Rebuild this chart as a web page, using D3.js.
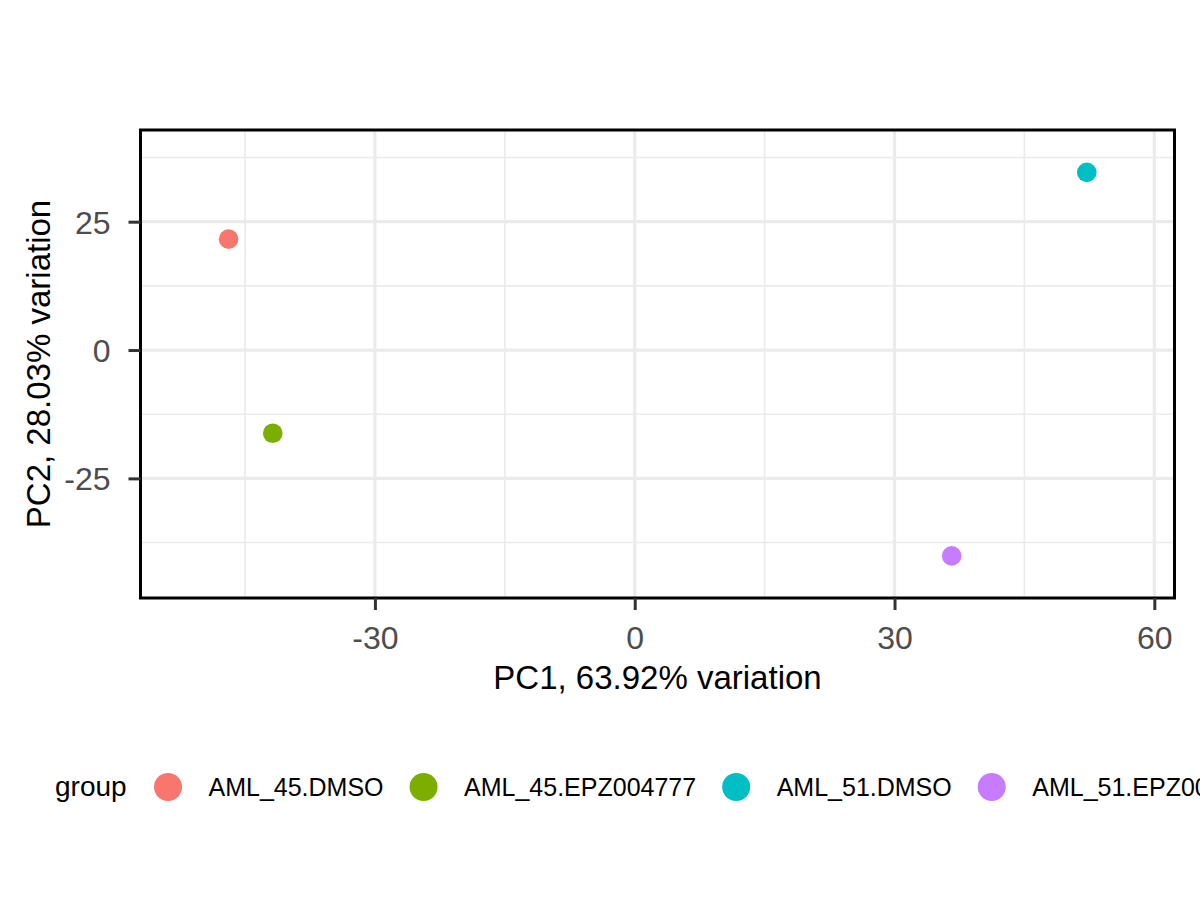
<!DOCTYPE html>
<html>
<head>
<meta charset="utf-8">
<script src="https://cdn.jsdelivr.net/npm/d3@7"></script>
<style>
  html, body { margin: 0; padding: 0; background: #fff; }
  svg { display: block; font-family: "Liberation Sans", Arial, Helvetica, sans-serif; }
</style>
</head>
<body>
<svg id="chart" width="1200" height="900"></svg>
<script>
// ---- Data ----
const groups = ["AML_45.DMSO", "AML_45.EPZ004777", "AML_51.DMSO", "AML_51.EPZ004777"];
const pc1 = [-46.9, -41.8, 52.2, 36.6];
const pc2 = [21.6, -16.2, 34.6, -40.1];
const colors = ["#F8766D", "#7CAE00", "#00BFC4", "#C77CFF"];
const xTicks = [-30, 0, 30, 60];
const xMinor = [-45, -15, 15, 45];
const yTicks = [-25, 0, 25];
const yMinor = [-37.5, -12.5, 12.5, 37.5];
const xTitle = "PC1, 63.92% variation";
const yTitle = "PC2, 28.03% variation";
const legendTitle = "group";

// ---- Layout ----
const panel = { left: 140.5, right: 1174.5, top: 130, bottom: 598 };
const svg = d3.select("#chart");

const x = d3.scaleLinear().domain([-57.07, 62.33]).range([panel.left, panel.right]);
const y = d3.scaleLinear().domain([-48.3, 42.86]).range([panel.bottom, panel.top]);

// panel background
svg.append("rect")
  .attr("x", panel.left).attr("y", panel.top)
  .attr("width", panel.right - panel.left).attr("height", panel.bottom - panel.top)
  .attr("fill", "#fff");

const grid = svg.append("g");
// minor gridlines
grid.selectAll(".xminor").data(xMinor).join("line")
  .attr("x1", d => x(d)).attr("x2", d => x(d))
  .attr("y1", panel.top).attr("y2", panel.bottom)
  .attr("stroke", "#EBEBEB").attr("stroke-width", 1.6);
grid.selectAll(".yminor").data(yMinor).join("line")
  .attr("y1", d => y(d)).attr("y2", d => y(d))
  .attr("x1", panel.left).attr("x2", panel.right)
  .attr("stroke", "#EBEBEB").attr("stroke-width", 1.6);
// major gridlines
grid.selectAll(".xmajor").data(xTicks).join("line")
  .attr("x1", d => x(d)).attr("x2", d => x(d))
  .attr("y1", panel.top).attr("y2", panel.bottom)
  .attr("stroke", "#EBEBEB").attr("stroke-width", 3.2);
grid.selectAll(".ymajor").data(yTicks).join("line")
  .attr("y1", d => y(d)).attr("y2", d => y(d))
  .attr("x1", panel.left).attr("x2", panel.right)
  .attr("stroke", "#EBEBEB").attr("stroke-width", 3.2);

// points
svg.append("g").selectAll("circle").data(groups).join("circle")
  .attr("cx", (d, i) => x(pc1[i]))
  .attr("cy", (d, i) => y(pc2[i]))
  .attr("r", 9.8)
  .attr("fill", (d, i) => colors[i]);

// panel border
svg.append("rect")
  .attr("x", panel.left).attr("y", panel.top)
  .attr("width", panel.right - panel.left).attr("height", panel.bottom - panel.top)
  .attr("fill", "none").attr("stroke", "#000").attr("stroke-width", 3);

// axes
const tickFont = 32;
const fmt = d => String(d);
const xAxis = d3.axisBottom(x).tickValues(xTicks).tickSize(12).tickPadding(8).tickFormat(fmt);
const gx = svg.append("g").attr("transform", `translate(0,${panel.bottom})`).call(xAxis);
gx.select(".domain").remove();
gx.selectAll(".tick line").attr("stroke", "#333333").attr("stroke-width", 3);
gx.selectAll(".tick text").attr("fill", "#4D4D4D").attr("font-size", tickFont)
  .attr("font-family", "Liberation Sans, Arial, sans-serif")
  .attr("dy", null).attr("y", 51);

const yAxis = d3.axisLeft(y).tickValues(yTicks).tickSize(12).tickPadding(8).tickFormat(fmt);
const gy = svg.append("g").attr("transform", `translate(${panel.left},0)`).call(yAxis);
gy.select(".domain").remove();
gy.selectAll(".tick line").attr("stroke", "#333333").attr("stroke-width", 3);
gy.selectAll(".tick text").attr("fill", "#4D4D4D").attr("font-size", tickFont)
  .attr("font-family", "Liberation Sans, Arial, sans-serif")
  .attr("x", -30).attr("dy", "0.36em");

// axis titles
svg.append("text")
  .attr("x", (panel.left + panel.right) / 2).attr("y", 689)
  .attr("text-anchor", "middle").attr("font-size", 33).attr("fill", "#000")
  .text(xTitle);
svg.append("text")
  .attr("transform", `translate(50,${(panel.top + panel.bottom) / 2}) rotate(-90)`)
  .attr("text-anchor", "middle").attr("font-size", 33).attr("fill", "#000")
  .text(yTitle);

// legend (the last label runs past the right edge, as in the reference)
const legY = 787;
const leg = svg.append("g");
leg.append("text").attr("x", 55).attr("y", legY + 8.5)
  .attr("font-size", 28).attr("fill", "#000").text(legendTitle);
let cursor = 168;
groups.forEach((g, i) => {
  leg.append("circle").attr("cx", cursor).attr("cy", legY).attr("r", 14).attr("fill", colors[i]);
  const t = leg.append("text").attr("x", cursor + 40.5).attr("y", legY + 8.5)
    .attr("font-size", 25).attr("fill", "#000").text(g);
  const w = t.node().getComputedTextLength();
  cursor = cursor + 40.5 + w + 40;
});
</script>
</body>
</html>
